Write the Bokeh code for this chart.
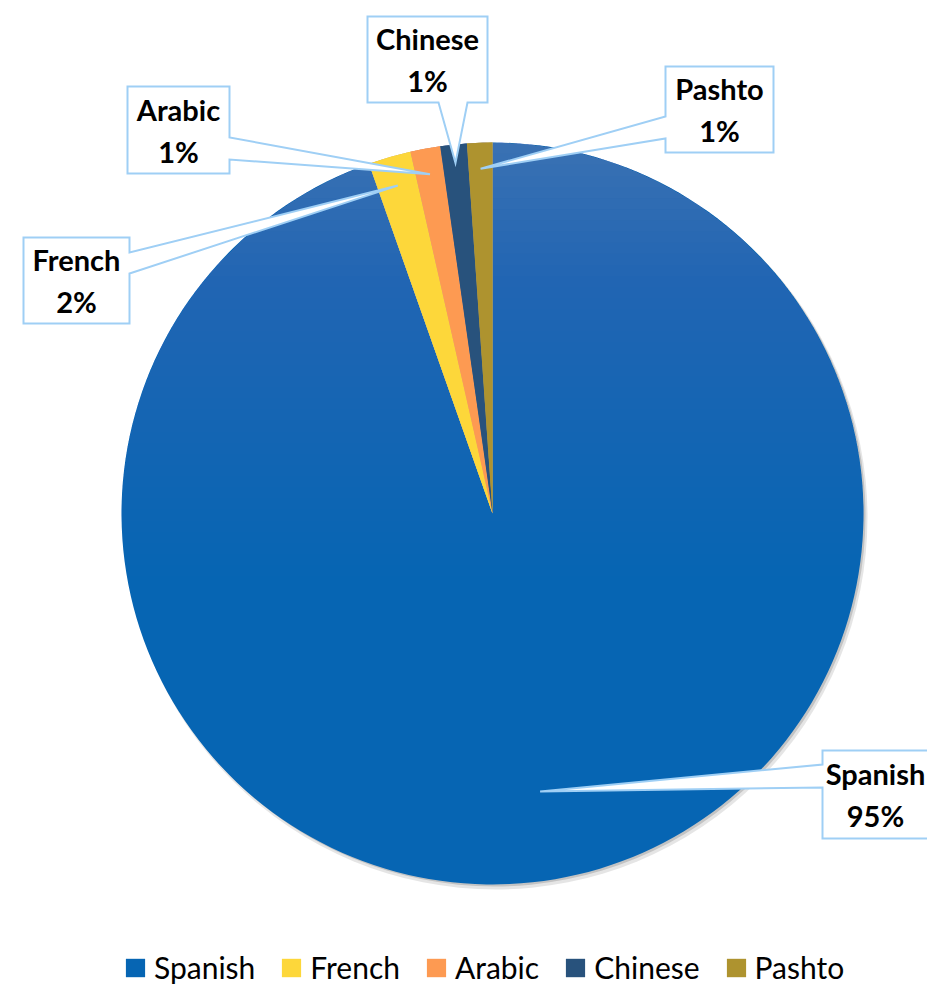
import numpy as np
from bokeh.plotting import figure
from bokeh.models import ColumnDataSource, Range1d, Legend, LegendItem, CDSView, IndexFilter
from bokeh.core.properties import value
from bokeh.embed import file_html
from bokeh.resources import INLINE

# ---- data ----
languages = ["Spanish", "French", "Arabic", "Chinese", "Pashto"]
shares = [94.6, 1.85, 1.3, 1.15, 1.1]
colors = ["#0665B3", "#FDD73A", "#FD9A52", "#28527C", "#AE932F"]

# ---- layout (pixel space of the picture) ----
W, H = 927, 986
PAGE_H = 988
def Y(py):
    return PAGE_H - py

cx, cy, r = 492, Y(513), 371

p = figure(width=W, height=H, x_range=Range1d(0, W), y_range=Range1d(PAGE_H - H, PAGE_H),
           output_backend="svg", toolbar_location=None, min_border=0,
           x_axis_type=None, y_axis_type=None, outline_line_color=None,
           background_fill_color="white", border_fill_color="white")
p.grid.visible = False

total = float(sum(shares))
fr = np.array(shares) / total
cum = np.concatenate([[0.0], np.cumsum(fr)])
theta_start = np.pi / 2 - 2 * np.pi * cum[:-1]   # clockwise from 12 o'clock
theta_end = np.pi / 2 - 2 * np.pi * cum[1:]
mid = (theta_start + theta_end) / 2

src = ColumnDataSource(dict(lang=languages, share=shares, color=colors,
                            start=theta_end, end=theta_start,
                            x=[cx] * len(languages), y=[cy] * len(languages)))

# soft shadow
p.circle(x=cx + 3, y=cy - 4, radius=r + 1, fill_color="#000000", fill_alpha=0.10, line_alpha=0)
p.circle(x=cx + 2, y=cy - 2, radius=r, fill_color="#000000", fill_alpha=0.15, line_alpha=0)

wr = p.wedge(x="x", y="y", radius=r, start_angle="start", end_angle="end",
             fill_color="color", line_alpha=0, source=src)

# vertical gradient overlay (light at top), built from stacked caps
C = "#CBB9D7"
A0 = 0.40
N = 40
TMAX = 0.6
tk = TMAX * (1 - np.arange(N + 1) / N)
caps_x, caps_y, caps_a = [], [], []
prevA = 0.0
for k in range(N):
    tm = (tk[k] + tk[k + 1]) / 2
    A = A0 * (1 - tm / TMAX)
    a = 1 - (1 - A) / (1 - prevA)
    prevA = A
    dy = r * (1 - 2 * tk[k])
    ph = np.arcsin(np.clip(dy / r, -1, 1))
    ang = np.linspace(ph, np.pi - ph, 80)
    caps_x.append(list(cx + r * np.cos(ang)))
    caps_y.append(list(cy + r * np.sin(ang)))
    caps_a.append(float(a))
p.patches(xs="xs", ys="ys", fill_alpha="a", fill_color=C, line_alpha=0,
          source=ColumnDataSource(dict(xs=caps_x, ys=caps_y, a=caps_a)))

# small slices on top of the overlay
p.wedge(x="x", y="y", radius=r, start_angle="start", end_angle="end",
        fill_color="color", line_alpha=0, source=src,
        view=CDSView(filter=IndexFilter(list(range(1, len(languages))))))

# ---- callouts ----
box_left = [822, 23, 127, 367, 665]
box_top = [750, 237, 86, 16, 66]
box_w = [118, 106, 102, 120, 108]
box_h = [88, 86, 87, 86, 86]
text_cx = [875, 76, 178, 427, 719]
tail_side = ["left", "right", "right", "bottom", "left"]
tail_b = [(14, 37), (15, 36), (51, 73), (71, 100), (50, 72)]
tip_f = [0.76, 0.92, 0.93, 0.95, 0.93]

cxs, cys = [], []
for i in range(len(languages)):
    L, T = box_left[i], box_top[i]
    R, B = L + box_w[i], T + box_h[i]
    tx = cx + tip_f[i] * r * np.cos(mid[i])
    ty_page = PAGE_H - (cy + tip_f[i] * r * np.sin(mid[i]))
    b1, b2 = tail_b[i]
    s = tail_side[i]
    if s == "left":
        pts = [(L, T), (R, T), (R, B), (L, B), (L, T + b2), (tx, ty_page), (L, T + b1)]
    elif s == "right":
        pts = [(L, T), (R, T), (R, T + b1), (tx, ty_page), (R, T + b2), (R, B), (L, B)]
    else:
        pts = [(L, T), (R, T), (R, B), (L + b2, B), (tx, ty_page), (L + b1, B), (L, B)]
    cxs.append([float(a) for a, b in pts])
    cys.append([float(Y(b)) for a, b in pts])
p.patches(xs="xs", ys="ys", source=ColumnDataSource(dict(xs=cxs, ys=cys)),
          fill_color="white", line_color="#9FCFF5", line_width=2, line_join="miter")

pct = ["%d%%" % int(np.floor(v / total * 100 + 0.5)) for v in shares]
lcy = [box_top[i] + box_h[i] / 2 for i in range(len(languages))]
lab = ColumnDataSource(dict(x=text_cx, yn=[Y(c - 21) for c in lcy], yp=[Y(c + 21) for c in lcy],
                            name=languages, pct=pct))
for col, yc in (("name", "yn"), ("pct", "yp")):
    p.text(x="x", y=yc, text=col, source=lab, text_font=value("Lato"),
           text_font_style="bold", text_font_size="29px", text_color="#000000",
           text_align="center", text_baseline="middle")

# ---- legend ----
items = [LegendItem(label=lang, renderers=[wr], index=i) for i, lang in enumerate(languages)]
legend = Legend(items=items, orientation="horizontal", location=(123, 1),
                label_text_font="Lato", label_text_font_size="30px", label_text_color="#000000",
                glyph_width=24, glyph_height=23, label_standoff=7, spacing=24,
                padding=0, margin=0, border_line_alpha=0, background_fill_alpha=0)
p.add_layout(legend)

open("out.html", "w").write(file_html(p, INLINE))
